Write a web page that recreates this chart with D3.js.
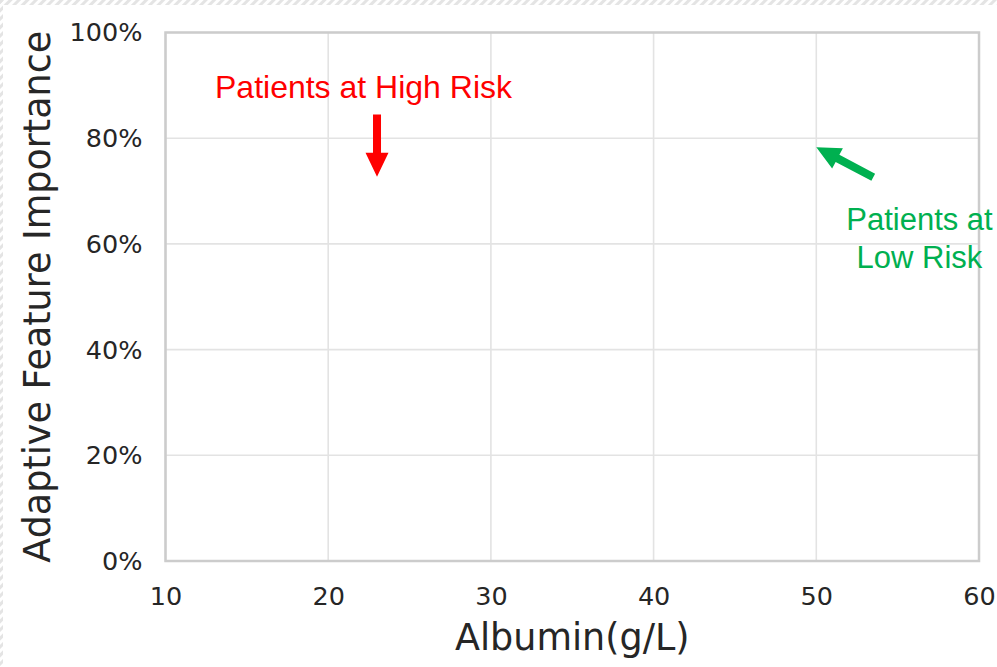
<!DOCTYPE html>
<html><head><meta charset="utf-8">
<script src="https://cdn.jsdelivr.net/npm/d3@7"></script>
<style>html,body{margin:0;padding:0;background:#fff;overflow:hidden}</style>
</head><body>
<script>
// Data
const xDomain = [10, 60];
const yDomain = [0, 1];
const xTicks = [10, 20, 30, 40, 50, 60];
const yTicks = [0, 0.2, 0.4, 0.6, 0.8, 1.0];
const xLabel = "Albumin(g/L)";
const yLabel = "Adaptive Feature Importance";
const highRiskText = ["Patients at High Risk"];
const highRiskArrow = {from: [23, 0.845], to: [23, 0.727]};
const lowRiskText = ["Patients at", "Low Risk"];
const lowRiskArrow = {from: [53.5, 0.726], to: [50, 0.783]};

const W = 997, H = 667;
const m = {left: 165.5, right: 997 - 979, top: 32.5, bottom: 667 - 561};
const svg = d3.select("body").append("svg").attr("width", W).attr("height", H);

// faint hatched edge (top & left)
const defs = svg.append("defs");
const pat = defs.append("pattern").attr("id","hatch").attr("patternUnits","userSpaceOnUse")
  .attr("width",6).attr("height",6).attr("patternTransform","rotate(45)");
pat.append("rect").attr("width",3).attr("height",6).attr("fill","#e4e4e4");
svg.append("rect").attr("x",0).attr("y",0).attr("width",W).attr("height",5).attr("fill","url(#hatch)");
svg.append("rect").attr("x",0).attr("y",0).attr("width",3).attr("height",H).attr("fill","url(#hatch)");

const x = d3.scaleLinear().domain(xDomain).range([m.left, W - m.right]);
const y = d3.scaleLinear().domain(yDomain).range([H - m.bottom, m.top]);

// grid
const g = svg.append("g");
g.selectAll(".vg").data(xTicks).join("line")
  .attr("x1", d => x(d)).attr("x2", d => x(d)).attr("y1", y(0)).attr("y2", y(1))
  .attr("stroke", "#e3e3e3").attr("stroke-width", 1.6);
g.selectAll(".hg").data(yTicks).join("line")
  .attr("x1", x(10)).attr("x2", x(60)).attr("y1", d => y(d)).attr("y2", d => y(d))
  .attr("stroke", "#e3e3e3").attr("stroke-width", 1.6);

// frame
svg.append("rect").attr("x", x(10)).attr("y", y(1))
  .attr("width", x(60) - x(10)).attr("height", y(0) - y(1))
  .attr("fill", "none").attr("stroke", "#cccccc").attr("stroke-width", 2.5);

// axes
const fam = "'DejaVu Sans', sans-serif";
const xAxis = d3.axisBottom(x).tickValues(xTicks).tickSize(0).tickPadding(0).tickFormat(d3.format("d"));
const xa = svg.append("g").attr("transform", `translate(0,${y(0)})`).call(xAxis);
xa.select(".domain").remove();
xa.selectAll("text").attr("font-family", fam).attr("font-size", 25.5).attr("fill", "#262626")
  .attr("dy", null).attr("y", 44);

const yAxis = d3.axisLeft(y).tickValues(yTicks).tickSize(0).tickPadding(0).tickFormat(d3.format(".0%"));
const ya = svg.append("g").attr("transform", `translate(${x(10)},0)`).call(yAxis);
ya.select(".domain").remove();
ya.selectAll("text").attr("font-family", fam).attr("font-size", 25.5).attr("fill", "#262626")
  .attr("x", -23).attr("dy", "0.33em");

svg.append("text").attr("x", (x(10) + x(60)) / 2).attr("y", 650)
  .attr("text-anchor", "middle").attr("font-family", fam).attr("font-size", 36.5)
  .attr("fill", "#262626").text(xLabel);
svg.append("text").attr("transform", `translate(50,${(y(0) + y(1)) / 2}) rotate(-90)`)
  .attr("text-anchor", "middle").attr("font-family", fam).attr("font-size", 36.5)
  .attr("fill", "#262626").text(yLabel);

// arrows
function arrow(a, color) {
  const x1 = x(a.from[0]), y1 = y(a.from[1]), x2 = x(a.to[0]), y2 = y(a.to[1]);
  const dx = x2 - x1, dy = y2 - y1, L = Math.hypot(dx, dy);
  const ux = dx / L, uy = dy / L, px = -uy, py = ux;
  const hl = 24, hw = 11.5, sw = 4;
  const bx = x2 - ux * hl, by = y2 - uy * hl;
  const pts = [
    [x1 + px * sw, y1 + py * sw], [bx + px * sw, by + py * sw], [bx + px * hw, by + py * hw],
    [x2, y2], [bx - px * hw, by - py * hw], [bx - px * sw, by - py * sw], [x1 - px * sw, y1 - py * sw]
  ];
  svg.append("path").attr("d", d3.line()(pts) + "Z").attr("fill", color);
}
arrow(highRiskArrow, "#ff0000");
arrow(lowRiskArrow, "#00b050");

const afam = "'Liberation Sans', Arial, sans-serif";
svg.append("text").attr("x", 363.5).attr("y", 98).attr("text-anchor", "middle")
  .attr("font-family", afam).attr("font-size", 32).attr("fill", "#ff0000").text(highRiskText[0]);
const lt = svg.append("text").attr("text-anchor", "middle").attr("font-family", afam)
  .attr("font-size", 31).attr("fill", "#00b050");
lowRiskText.forEach((t, i) => lt.append("tspan").attr("x", 919.5).attr("y", 230 + i * 38).text(t));
</script>
</body></html>
